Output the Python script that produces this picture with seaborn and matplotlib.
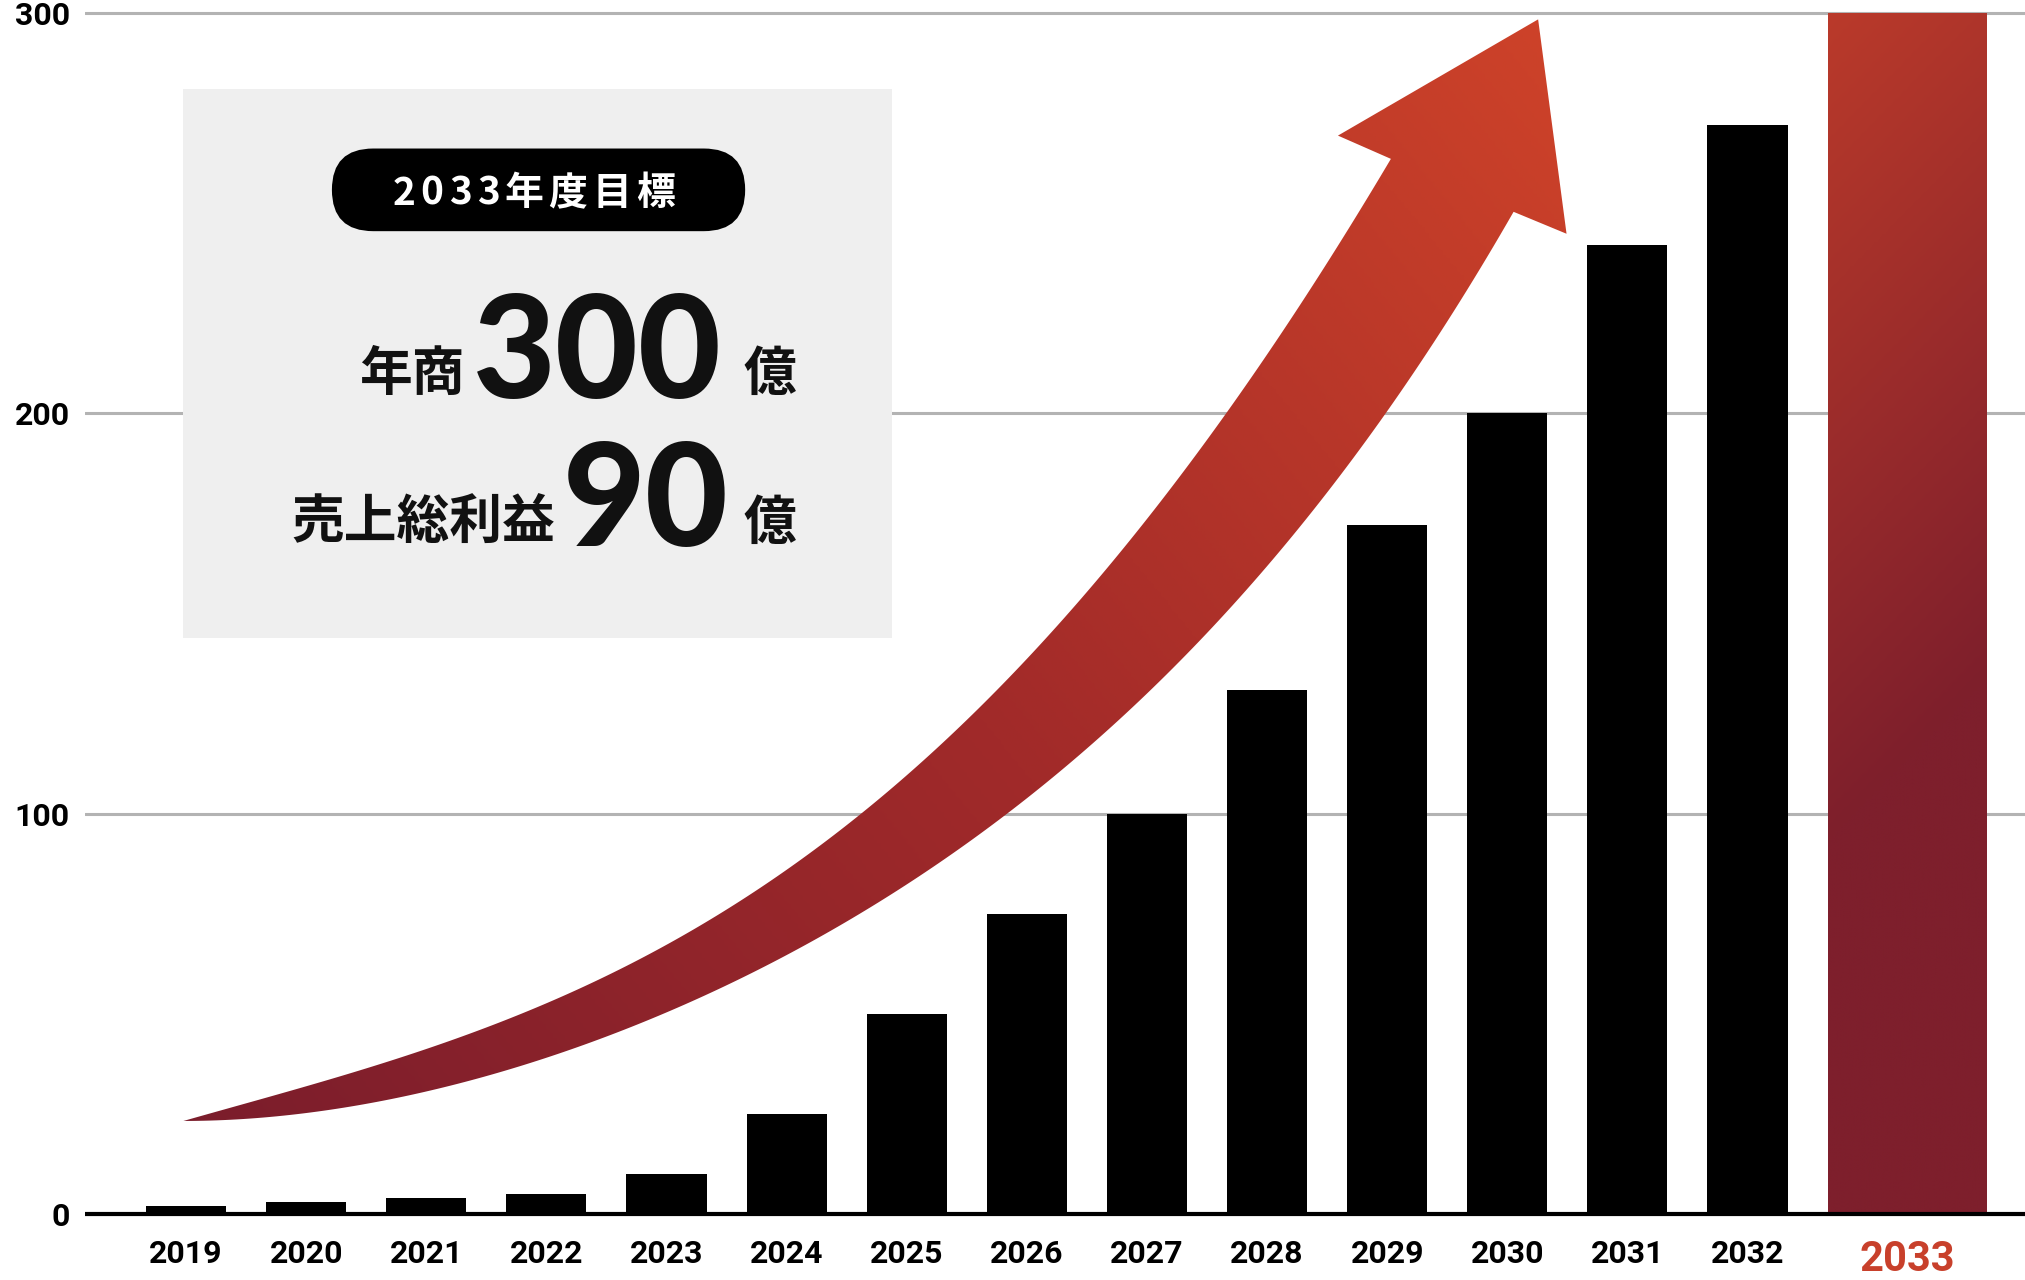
import numpy as np
import pandas as pd
import matplotlib
matplotlib.use("Agg")
import matplotlib.pyplot as plt
import seaborn as sns
from matplotlib.patches import Rectangle, FancyBboxPatch, Polygon
from matplotlib.colors import LinearSegmentedColormap

# data
years = ["2019", "2020", "2021", "2022", "2023", "2024", "2025",
         "2026", "2027", "2028", "2029", "2030", "2031", "2032"]
sales = [2, 3, 4, 5, 10, 25, 50, 75, 100, 131, 172, 200, 242, 272]
target_year = "2033"
target_value = 300
yticks = [0, 100, 200, 300]

sns.set_theme(style="white")
plt.rcParams["font.family"] = ["Noto Sans CJK JP", "DejaVu Sans"]

W, H = 2025, 1280
fig = plt.figure(figsize=(W / 100, H / 100), dpi=100)

# main axes: 0 -> y=1214px, 300 -> y=13px
ppu = (1214 - 12.9) / 300
ybot, ytop = -2, 303
ax_bottom = 1 - (1214 + (0 - ybot) * ppu) / H
ax_top = 1 - (12.9 - (ytop - 300) * ppu) / H
ax = fig.add_axes([85.2 / W, ax_bottom, 1 - 85.2 / W, ax_top - ax_bottom])

df = pd.DataFrame({"year": years, "sales": sales})
sns.barplot(data=df, x="year", y="sales", color="black", saturation=1,
            width=0.667, linewidth=0, ax=ax, zorder=3)

# 2033 target bar, wider, with a red gradient
x0 = len(years) - 0.3335
bw = 1.32
bar = ax.bar(x0, target_value, width=bw, align="edge", color="none",
             linewidth=0, zorder=3)[0]
bar_cmap = LinearSegmentedColormap.from_list("bar", ["#ba3a2a", "#7e1f2c"])
gy, gx = np.mgrid[0:1:300j, 0:1:60j]
t = np.clip((gy * 0.9 + gx * 0.12) / 0.62, 0, 1)
im = ax.imshow(t, cmap=bar_cmap, extent=[x0, x0 + bw, 0, target_value],
               origin="upper", aspect="auto", interpolation="bilinear", zorder=3)
im.set_clip_path(bar)

ax.set_xlim(-0.84, 15.31)
ax.set_ylim(ybot, ytop)
ax.set_yticks(yticks)
ax.set_yticklabels([str(v) for v in yticks])
ax.yaxis.grid(True, color="#b3b3b3", linewidth=2.2)
ax.xaxis.grid(False)
ax.set_axisbelow(True)
ax.axhline(0, color="black", linewidth=3, zorder=4)
for s in ax.spines.values():
    s.set_visible(False)
ax.set_xlabel("")
ax.set_ylabel("")

ax.set_xticks(list(range(len(years))) + [x0 + bw / 2])
ax.set_xticklabels(years + [target_year])
ax.tick_params(axis="x", length=0, pad=12)
ax.tick_params(axis="y", length=0, pad=11)
for lbl in ax.get_xticklabels() + ax.get_yticklabels():
    lbl.set_fontfamily(["Roboto", "DejaVu Sans"])
    lbl.set_fontweight("bold")
    lbl.set_fontsize(23)
    lbl.set_color("black")
last = ax.get_xticklabels()[-1]
last.set_fontsize(30)
last.set_color("#c8402b")

# overlay axes in reference pixel space (1568 wide) for the decorations
RW = 1568
RH = H * RW / W
ov = fig.add_axes([0, 0, 1, 1], zorder=5)
ov.patch.set_alpha(0)
ov.axis("off")


def fit_edge(pts, x_from, x_to, deg=4, n=200):
    p = np.array(pts, float)
    w = np.ones(len(p))
    w[0] = w[-1] = 20
    coef = np.polyfit(p[:, 0], p[:, 1], deg, w=w)
    xs = np.linspace(x_from, x_to, n)
    return np.column_stack([xs, np.polyval(coef, xs)])


tail = (142, 868)
upper = [tail, (254, 835), (358, 800), (462, 759), (548, 719),
         (617, 671), (723, 576), (810, 490), (906, 379), (1000, 254), (1077, 123)]
head = [(1036, 105), (1191, 15), (1213, 181)]
lower = [(1172, 164), (1103, 282), (1034, 375), (948, 472), (844, 576),
         (742, 658), (658, 710), (566, 764), (462, 809), (358, 837),
         (254, 856), tail]
up_edge = fit_edge(upper, 142, 1077)
lo_edge = fit_edge(lower, 1172, 142)
outline = np.vstack([up_edge, np.array(head, float), lo_edge])
arrow = Polygon(outline, closed=True, facecolor="none", edgecolor="none", zorder=2)
ov.add_patch(arrow)

arrow_cmap = LinearSegmentedColormap.from_list(
    "arrow", ["#7b1d2c", "#a12a29", "#cd4229"])
ex = (138, 1218, 10, 872)
xs = np.linspace(ex[0], ex[1], 400)
ys = np.linspace(ex[2], ex[3], 400)
XX, YY = np.meshgrid(xs, ys)
d = np.array([1191 - 142, 15 - 868], float)
ta = ((XX - 142) * d[0] + (YY - 868) * d[1]) / (d @ d)
aim = ov.imshow(np.clip(ta, 0, 1), cmap=arrow_cmap, extent=ex, origin="lower",
                aspect="auto", interpolation="bilinear", zorder=2)
aim.set_clip_path(arrow)

# info box
ov.add_patch(Rectangle((142, 69), 549, 425, facecolor="#efefef",
                       edgecolor="none", zorder=1))
ov.add_patch(FancyBboxPatch((257, 115), 320, 64,
                            boxstyle="round,pad=0,rounding_size=32",
                            facecolor="black", edgecolor="none", zorder=3))

ov.set_xlim(0, RW)
ov.set_ylim(RH, 0)

# spaced pill label
renderer = fig.canvas.get_renderer()
label = "2033年度目標"
chars = []
for ch in label:
    tx = ov.text(0, 158.7, ch, color="white", fontsize=28, fontweight="bold",
                 va="baseline", ha="left", zorder=4)
    chars.append(tx)
px2ref = RW / W
widths = [c.get_window_extent(renderer).width * px2ref for c in chars]
span = 219
gap = (span - sum(widths)) / (len(chars) - 1)
cx = 413.5 - span / 2
for c, w in zip(chars, widths):
    c.set_x(cx)
    cx += w + gap

cjk = dict(color="#111111", fontsize=38, fontweight="bold", va="baseline", zorder=4)
num = dict(color="#111111", fontsize=103, fontweight="black", va="baseline",
           family=["Lato", "DejaVu Sans"], zorder=4)
ov.text(360, 302, "年商", ha="right", **cjk)
ov.text(366, 308, "300", ha="left", **num)
ov.text(576, 302, "億", ha="left", **cjk)
ov.text(430, 417, "売上総利益", ha="right", **cjk)
ov.text(436, 423, "90", ha="left", **num)
ov.text(576, 417, "億", ha="left", **cjk)

fig.savefig("out.png", dpi=100)
